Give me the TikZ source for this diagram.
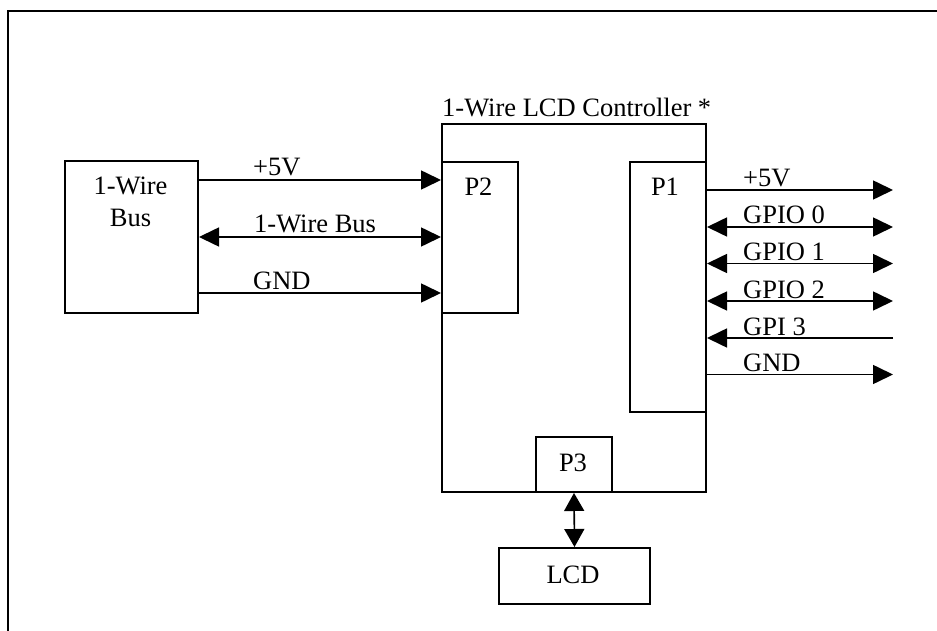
\documentclass[tikz,border=0pt]{standalone}
\usepackage{fontspec}
\setmainfont{Liberation Serif}
\usetikzlibrary{arrows.meta}
\begin{document}
\begin{tikzpicture}[x=1pt,y=-1pt,
  box/.style={draw, line width=2pt, inner sep=0pt, anchor=north west},
  wire/.style={line width=1.6pt},
  tipend/.style={-{Triangle[length=20pt,width=19pt]}},
  tipboth/.style={{Triangle[length=20pt,width=19pt]}-{Triangle[length=20pt,width=19pt]}},
  tipv/.style={{Triangle[length=18pt,width=20pt]}-{Triangle[length=18pt,width=20pt]}},
  txt/.style={font=\fontsize{26.5}{31}\selectfont, inner sep=0pt, anchor=base west},
  ctxt/.style={font=\fontsize{26.5}{31}\selectfont, inner sep=0pt, anchor=base},
]
\useasboundingbox (0,0) rectangle (937,631);
% outer frame
\draw[line width=2pt] (8,632) -- (8,11) -- (938,11);

% boxes
\node[box, minimum width=133pt, minimum height=152pt] (bus) at (64,160) {};
\node[box, minimum width=264pt, minimum height=368pt] (ctrl) at (441,123) {};
\node[box, minimum width=76pt, minimum height=151pt] (p2) at (441,161) {};
\node[box, minimum width=76pt, minimum height=250pt] (p1) at (629,161) {};
\node[box, minimum width=76pt, minimum height=55pt] (p3) at (535,436) {};
\node[box, minimum width=151pt, minimum height=56pt] (lcd) at (498,547) {};

% texts in boxes
\node[txt] (title) at (442,117) {1-Wire LCD Controller *};
\node[ctxt] (busa) at (130.5,195) {1-Wire};
\node[ctxt] (busb) at (130.5,227) {Bus};
\node[ctxt] (p2t) at (478.5,196) {P2};
\node[ctxt] (p1t) at (665,196) {P1};
\node[ctxt] (p3t) at (573,471) {P3};
\node[ctxt] (lcdt) at (573,583) {LCD};

% left connections
\coordinate (ya) at (0,180);
\coordinate (yb) at (0,237);
\coordinate (yc) at (0,293);
\draw[wire,tipend] (bus.east |- ya) -- (p2.west |- ya);
\draw[wire,tipboth] (bus.east |- yb) -- (p2.west |- yb);
\draw[wire,tipend] (bus.east |- yc) -- (p2.west |- yc);
\node[txt] (la) at (253,175.5) {+5V};
\node[txt] (lb) at (254,232.5) {1-Wire Bus};
\node[txt] (lc) at (253,289.5) {GND};

% right connections
\coordinate (r1) at (893,190);
\coordinate (r2) at (893,227);
\coordinate (r3) at (893,263.5);
\coordinate (r4) at (893,301);
\coordinate (r5) at (893,338);
\coordinate (r6) at (893,374.5);
\draw[wire,tipend] (p1.east |- r1) -- (r1);
\draw[wire,tipboth] (p1.east |- r2) -- (r2);
\draw[wire,tipboth] (p1.east |- r3) -- (r3);
\draw[wire,tipboth] (p1.east |- r4) -- (r4);
\draw[wire,tipend] (r5) -- (p1.east |- r5);
\draw[wire,tipend] (p1.east |- r6) -- (r6);
\node[txt] (l1) at (743,187) {+5V};
\node[txt] (l2) at (743,224) {GPIO 0};
\node[txt] (l3) at (743,260.5) {GPIO 1};
\node[txt] (l4) at (743,298) {GPIO 2};
\node[txt] (l5) at (743,335) {GPI 3};
\node[txt] (l6) at (743,371.5) {GND};

% bottom connection
\draw[wire,tipv] (p3.south) -- (lcd.north);
\end{tikzpicture}
\end{document}
